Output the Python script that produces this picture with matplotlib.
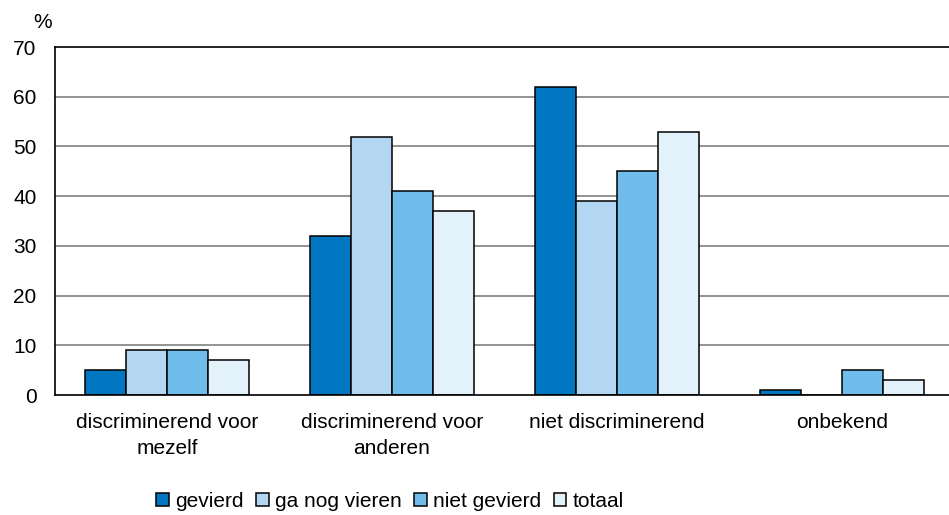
import matplotlib
matplotlib.use("Agg")
import matplotlib.pyplot as plt
import numpy as np

plt.rcParams['font.family'] = ['Liberation Sans', 'DejaVu Sans']

categories = ["discriminerend voor\nmezelf", "discriminerend voor\nanderen", "niet discriminerend", "onbekend"]
series = ["gevierd", "ga nog vieren", "niet gevierd", "totaal"]
gevierd = [5, 32, 62, 1]
ga_nog_vieren = [9, 52, 39, 0]
niet_gevierd = [9, 41, 45, 5]
totaal = [7, 37, 53, 3]
values = [gevierd, ga_nog_vieren, niet_gevierd, totaal]
colors = ["#0077C0", "#B3D7F3", "#70BDEC", "#E3F1FB"]
yticks = [0, 10, 20, 30, 40, 50, 60, 70]

fig = plt.figure(figsize=(9.49, 5.15), dpi=100)
ax = fig.add_axes([0.0575, 0.233, 0.948, 0.6757])

x = np.arange(len(categories))
w = 0.182
for i, (s, v, c) in enumerate(zip(series, values, colors)):
    ax.bar(x + (i - 1.5) * w, v, w, color=c, edgecolor="black", linewidth=1.1,
           label=s, zorder=3)

ax.set_xlim(-0.5, 3.5)
ax.set_ylim(0, 70)
ax.set_yticks(yticks)
ax.set_yticklabels([str(t) for t in yticks], fontsize=15)
ax.set_xticks(x)
ax.set_xticklabels(categories, fontsize=15, linespacing=1.45)
ax.tick_params(axis='x', length=0, pad=13)
ax.tick_params(axis='y', length=0, pad=13)
for t in yticks[1:-1]:
    ax.axhline(t, color="#808080", linewidth=1.2, zorder=1)
ax.spines['right'].set_visible(False)
for s in ['left', 'bottom', 'top']:
    ax.spines[s].set_color('black')
    ax.spines[s].set_linewidth(1.2)
ax.spines['bottom'].set_zorder(4)

fig.text(0.035, 0.957, "%", fontsize=15, ha='left', va='center')

leg = fig.legend(loc='center', bbox_to_anchor=(0.411, 0.027), ncol=4, frameon=False,
                 fontsize=15, handlelength=0.6, handleheight=0.6,
                 handletextpad=0.3, columnspacing=0.6, borderaxespad=0)

fig.savefig("out.png", dpi=100)
